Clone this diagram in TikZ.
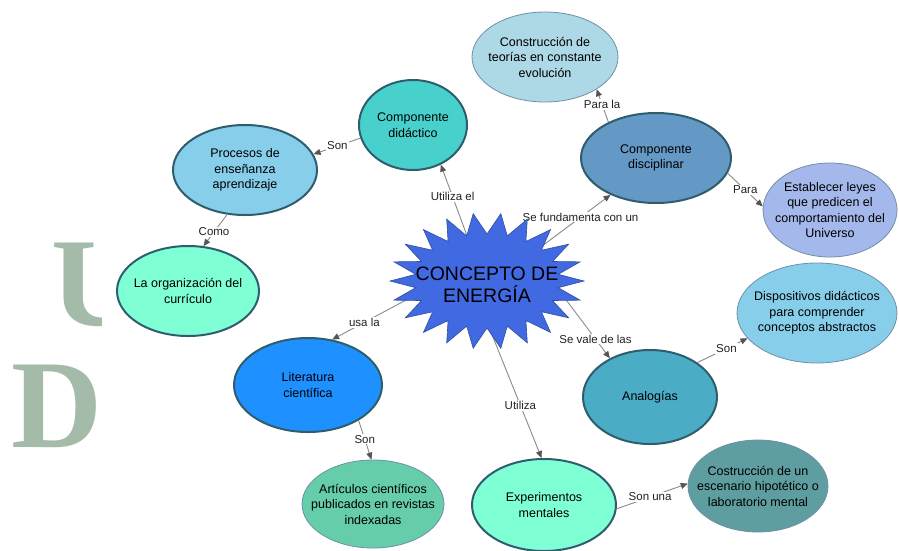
\documentclass[tikz,border=0pt]{standalone}
\usepackage{fontspec}
\setmainfont{Liberation Sans}
\newfontfamily\wmfont{Liberation Serif}
\usetikzlibrary{shapes.geometric,arrows.meta}
\definecolor{wmc}{HTML}{A5BBA9}
\definecolor{bordc}{HTML}{2E5E6E}
\definecolor{thinc}{HTML}{6F8FA8}
\definecolor{linec}{HTML}{8A8A8A}
\definecolor{arrc}{HTML}{555555}
\definecolor{labc}{HTML}{222222}
\definecolor{cConstr}{HTML}{ADD8E6}
\definecolor{cDid}{HTML}{48D1CC}
\definecolor{cProc}{HTML}{87CEEB}
\definecolor{cDisc}{HTML}{6498C5}
\definecolor{cEstab}{HTML}{A4B8EC}
\definecolor{cStar}{HTML}{4169E1}
\definecolor{cStarB}{HTML}{2F4F9F}
\definecolor{cOrg}{HTML}{7FFFD4}
\definecolor{cDisp}{HTML}{87CEEB}
\definecolor{cLit}{HTML}{1E90FF}
\definecolor{cAna}{HTML}{4BACC6}
\definecolor{cArt}{HTML}{66CDAA}
\definecolor{cExp}{HTML}{7FFFD4}
\definecolor{cCost}{HTML}{5F9EA0}
\tikzset{
  ctext/.style={align=center, text=black, inner sep=0pt,
    font=\fontsize{12.5}{15.5}\selectfont},
  concept/.style={ellipse, inner sep=0pt},
  cbold/.style={concept, draw=bordc, line width=2pt},
  cthin/.style={concept, draw=thinc, line width=0.8pt},
  conn/.style={draw=linec, line width=0.9pt,
    -{Triangle[length=7pt,width=6pt,color=arrc]}},
  lab/.style={fill=white, inner sep=1pt, text=labc,
    font=\fontsize{11.5}{12}\selectfont}
}
\begin{document}
\begin{tikzpicture}[x=1pt,y=-1pt]
\useasboundingbox[fill=white] (0,0) rectangle (899,550);
% watermark letters
\begin{scope}
  \clip (0,0) rectangle (101,550);
  \node[anchor=base west, inner sep=0pt, text=wmc,
    font=\wmfont\bfseries\fontsize{126}{126}\selectfont] (wmU) at (51,325) {U};
  \node[anchor=base west, inner sep=0pt, text=wmc,
    font=\wmfont\bfseries\fontsize{126}{126}\selectfont] (wmD) at (11,447) {D};
\end{scope}
% concept nodes
\node[cthin, fill=cConstr, minimum width=146pt, minimum height=90pt,
  label={[ctext]center:Construcción de\\teorías en constante\\evolución}] (constr) at (545,57) {};
\node[cbold, fill=cDid, minimum width=108pt, minimum height=90pt,
  label={[ctext]center:Componente\\didáctico}] (did) at (413,125) {};
\node[cbold, fill=cProc, minimum width=144pt, minimum height=90pt,
  label={[ctext]center:Procesos de\\enseñanza\\aprendizaje}] (proc) at (245,170) {};
\node[cbold, fill=cDisc, minimum width=150pt, minimum height=90pt,
  label={[ctext]center:Componente\\disciplinar}] (disc) at (656,158) {};
\node[cthin, fill=cEstab, minimum width=134pt, minimum height=94pt,
  label={[ctext]center:Establecer leyes\\que predicen el\\comportamiento del\\Universo}] (estab) at (830,210) {};
\node[cbold, fill=cOrg, minimum width=142pt, minimum height=90pt,
  label={[ctext]center:La organización del\\currículo}] (org) at (188,291) {};
\node[cthin, fill=cDisp, minimum width=160pt, minimum height=100pt,
  label={[ctext]center:Dispositivos didácticos\\para comprender\\conceptos abstractos}] (disp) at (817,313) {};
\node[cbold, fill=cLit, minimum width=148pt, minimum height=94pt,
  label={[ctext]center:Literatura\\científica}] (lit) at (308,385) {};
\node[cbold, fill=cAna, minimum width=134pt, minimum height=94pt,
  label={[ctext]center:Analogías}] (ana) at (650,397) {};
\node[cthin, fill=cArt, minimum width=142pt, minimum height=88pt,
  label={[ctext]center:Artículos científicos\\publicados en revistas\\indexadas}] (art) at (373,504) {};
\node[cbold, fill=cExp, minimum width=144pt, minimum height=92pt,
  label={[ctext]center:Experimentos\\mentales}] (exp) at (544,505) {};
\node[cthin, fill=cCost, minimum width=140pt, minimum height=92pt,
  label={[ctext]center:Costrucción de un\\escenario hipotético o\\laboratorio mental}] (cost) at (758,486) {};
% central anchor
\node[ellipse, inner sep=0pt, minimum width=140pt, minimum height=90pt] (E) at (487,281) {};
% connectors
\draw[conn] (E.114) -- node[lab, pos=0.56] (l1) {Utiliza el} (did.-55);
\draw[conn] (did.194) -- node[lab, pos=0.49] (l2) {Son} (proc.13);
\draw[conn] (proc.248) -- node[lab, pos=0.55] (l3) {Como} (org.71);
\draw[conn] (E.32) -- node[lab, pos=0.59] (l4) {Se fundamenta con un} (disc.219);
\draw[conn] (disc.143) -- node[lab, pos=0.53] (l5) {Para la} (constr.-32);
\draw[conn] (disc.-12) -- node[lab, pos=0.5] (l6) {Para} (estab.177);
\draw[conn] (E.190) -- node[lab, pos=0.63] (l7) {usa la} (lit.62);
\draw[conn] (lit.-35) -- node[lab, pos=0.48] (l8) {Son} (art.92);
\draw[conn] (E.-5) -- node[lab, pos=0.73] (l9) {Se vale de las} (ana.136);
\draw[conn] (ana.36) -- node[lab, pos=0.58] (l10) {Son} (disp.200);
\draw[conn] (E.-88) -- node[lab, pos=0.6] (l11) {Utiliza} (exp.93);
\draw[conn] (exp.-3) -- node[lab, pos=0.47] (l12) {Son una} (cost.178);
% star
\path[fill=cStar, draw=cStarB, line width=0.6pt]
  plot[samples at={0,...,43}] ({487 + (mod(\x,2)==0 ? 97 : 72)*cos(\x*360/44)}, {281 + (mod(\x,2)==0 ? 68 : 47)*sin(\x*360/44)}) -- cycle;
\node[align=center, inner sep=0pt, text=black, font=\fontsize{19.5}{22}\selectfont] (Etxt) at (487,285) {CONCEPTO DE\\ENERGÍA};
\end{tikzpicture}
\end{document}
